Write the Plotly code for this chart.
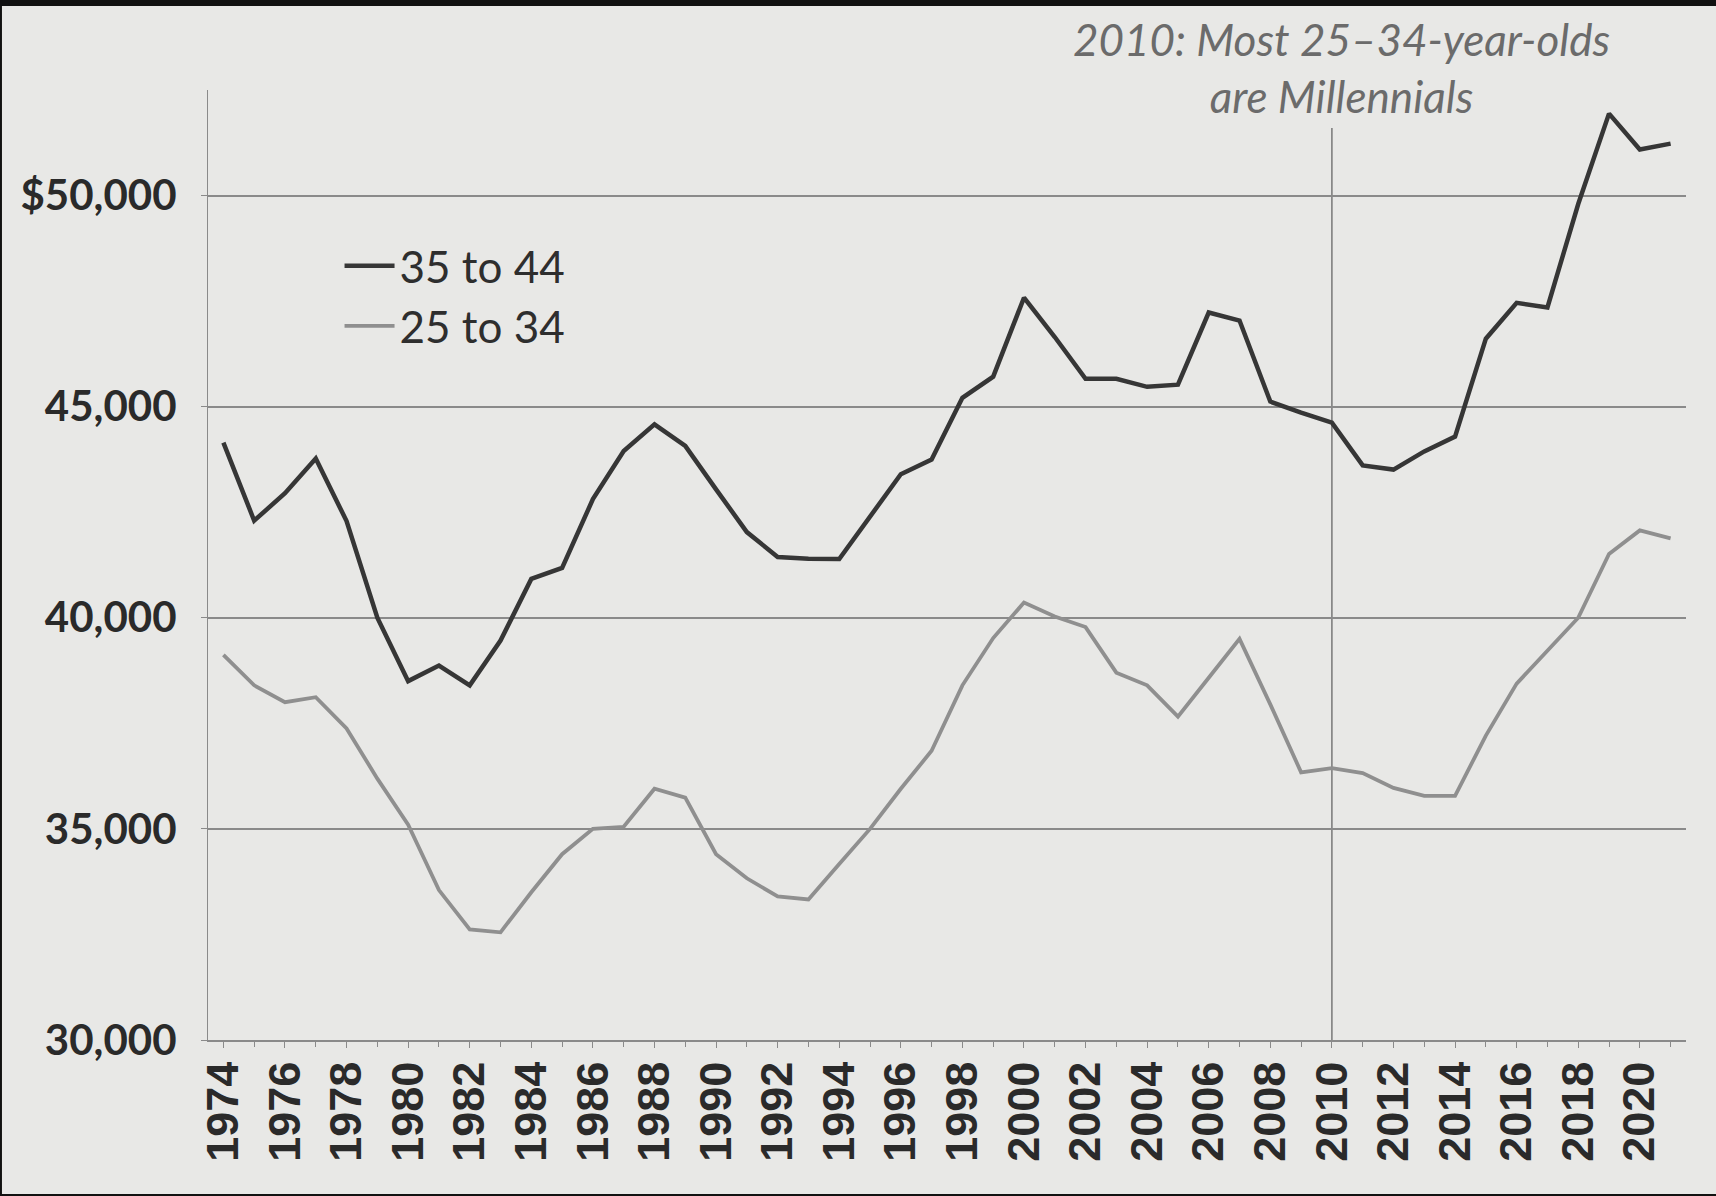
import plotly.graph_objects as go

# ---- data ----
years = [1974, 1975, 1976, 1977, 1978, 1979, 1980, 1981, 1982, 1983, 1984, 1985,
         1986, 1987, 1988, 1989, 1990, 1991, 1992, 1993, 1994, 1995, 1996, 1997,
         1998, 1999, 2000, 2001, 2002, 2003, 2004, 2005, 2006, 2007, 2008, 2009,
         2010, 2011, 2012, 2013, 2014, 2015, 2016, 2017, 2018, 2019, 2020, 2021]

age_35_44 = [44150, 42300, 42950, 43770, 42290, 40000, 38500, 38870, 38400, 39460,
             40920, 41180, 42810, 43950, 44580, 44070, 43040, 42030, 41440, 41400,
             41390, 42400, 43400, 43750, 45210, 45710, 47580, 46650, 45660, 45660,
             45470, 45520, 47230, 47040, 45120, 44860, 44620, 43610, 43510, 43940,
             44290, 46610, 47460, 47350, 49800, 51940, 51090, 51230]

age_25_34 = [39120, 38400, 38000, 38120, 37380, 36190, 35100, 33550, 32620, 32550,
             33500, 34400, 35000, 35050, 35950, 35740, 34400, 33830, 33400, 33330,
             34170, 35000, 35950, 36850, 38400, 39520, 40360, 40030, 39780, 38700,
             38400, 37660, 38580, 39500, 37950, 36340, 36440, 36320, 35970, 35780,
             35780, 37210, 38440, 39230, 40000, 41510, 42070, 41880]

series_names = ["35 to 44", "25 to 34"]

x_tick_years = [1974, 1976, 1978, 1980, 1982, 1984, 1986, 1988, 1990, 1992, 1994,
                1996, 1998, 2000, 2002, 2004, 2006, 2008, 2010, 2012, 2014, 2016,
                2018, 2020]
y_tick_values = [30000, 35000, 40000, 45000, 50000]
y_tick_labels = ["30,000", "35,000", "40,000", "45,000", "$50,000"]

marker_year = 2010
marker_top = 51600
annotation_text = "<i>2010: Most 25\u201334-year-olds<br>are Millennials</i>"

# ---- styling ----
PAPER = "#e8e8e6"
DARK = "#363636"
LIGHT = "#8f8f8f"
GRID = "#8a8a8a"

fig = go.Figure()
fig.add_trace(go.Scatter(x=years, y=age_35_44, mode="lines", name=series_names[0],
                         line=dict(color=DARK, width=4.5)))
fig.add_trace(go.Scatter(x=years, y=age_25_34, mode="lines", name=series_names[1],
                         line=dict(color=LIGHT, width=3.8)))

# photo border (dark edge of the scan) and paper
fig.add_shape(type="rect", xref="paper", yref="paper",
              x0=-0.1394, x1=1.04, y0=-0.1621, y1=1.0884,
              fillcolor=PAPER, line=dict(width=0), layer="below")

# 2010 reference line
fig.add_shape(type="line", xref="x", yref="y",
              x0=marker_year, x1=marker_year, y0=y_tick_values[0], y1=marker_top,
              line=dict(color="#777777", width=1.5), layer="below")

fig.add_annotation(text=annotation_text, xref="x", yref="paper",
                   x=marker_year, y=1.083, xanchor="center", yanchor="top",
                   xshift=10, showarrow=False, align="center",
                   font=dict(family="Lato", size=44, color="#6b6b6b"))

fig.update_layout(
    width=1716, height=1196,
    paper_bgcolor="#111111",
    plot_bgcolor="rgba(0,0,0,0)",
    margin=dict(l=208, r=30, t=90, b=156, autoexpand=False),
    showlegend=True,
    legend=dict(x=0.089, y=0.852, xanchor="left", yanchor="top",
                bgcolor="rgba(0,0,0,0)", itemwidth=50,
                font=dict(family="Lato", size=44, color="#2e2e2e"),
                tracegroupgap=0),
)

fig.update_xaxes(
    range=[1973.5, 2021.5],
    tickmode="array", tickvals=x_tick_years, ticktext=[str(v) for v in x_tick_years],
    tickangle=-90,
    tickfont=dict(family="Liberation Sans", size=45, color="#2a2a2a", weight="bold"),
    showgrid=False, zeroline=False, automargin=False,
    showline=True, linecolor=GRID, linewidth=1.5,
    ticks="outside", ticklen=6, tickcolor=GRID, tickwidth=1,
    minor=dict(dtick=1, ticks="outside", ticklen=5, tickcolor=GRID, tickwidth=1),
    ticklabelstandoff=-4,
)

fig.update_yaxes(
    range=[30000, 52500],
    tickmode="array", tickvals=y_tick_values, ticktext=y_tick_labels,
    tickfont=dict(family="Lato", size=42, color="#2a2a2a", weight="bold"),
    showgrid=True, gridcolor=GRID, gridwidth=1.5,
    zeroline=False, automargin=False,
    showline=True, linecolor=GRID, linewidth=1.2,
    ticks="outside", ticklen=6, tickcolor=GRID, tickwidth=1,
    ticklabelstandoff=16,
)

fig.write_html("out.html", config={"displayModeBar": False},
               post_script="document.body.style.margin='0px';"
                           "document.body.style.overflow='hidden';")
